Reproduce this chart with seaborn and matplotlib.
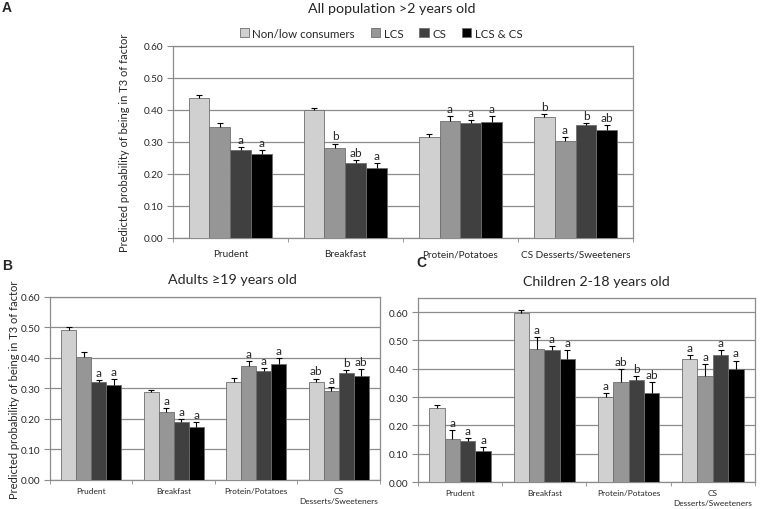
import numpy as np
import pandas as pd
import matplotlib
matplotlib.use('Agg')
import matplotlib.pyplot as plt
import seaborn as sns

sns.set_style('white')
plt.rcParams['font.family'] = ['Lato', 'DejaVu Sans']

groups = ['Non/low consumers', 'LCS', 'CS', 'LCS & CS']
colors = ['#d0d0d0', '#969696', '#404040', '#000000']
factors = ['Prudent', 'Breakfast', 'Protein/Potatoes', 'CS Desserts/Sweeteners']

# panel A: all population >2 years old (rows = factor, cols = group)
all_mean = [[0.437, 0.348, 0.275, 0.261],
            [0.400, 0.281, 0.234, 0.220],
            [0.315, 0.367, 0.360, 0.363],
            [0.379, 0.304, 0.352, 0.337]]
all_top = [[0.448, 0.360, 0.283, 0.275],
           [0.407, 0.295, 0.243, 0.235],
           [0.326, 0.381, 0.369, 0.381],
           [0.387, 0.314, 0.360, 0.354]]
all_sig = [['', '', 'a', 'a'],
           ['', 'b', 'ab', 'a'],
           ['', 'a', 'a', 'a'],
           ['b', 'a', 'b', 'ab']]

# panel B: adults >=19 years old
adult_mean = [[0.490, 0.404, 0.320, 0.312],
              [0.287, 0.221, 0.191, 0.173],
              [0.320, 0.373, 0.356, 0.379],
              [0.321, 0.291, 0.349, 0.339]]
adult_top = [[0.502, 0.418, 0.328, 0.331],
             [0.296, 0.235, 0.200, 0.189],
             [0.333, 0.388, 0.367, 0.398],
             [0.332, 0.303, 0.359, 0.362]]
adult_sig = [['', '', 'a', 'a'],
             ['', 'a', 'a', 'a'],
             ['', 'a', 'a', 'a'],
             ['ab', 'a', 'b', 'ab']]

# panel C: children 2-18 years old
child_mean = [[0.262, 0.153, 0.144, 0.108],
              [0.596, 0.471, 0.465, 0.434],
              [0.301, 0.353, 0.360, 0.315],
              [0.434, 0.373, 0.449, 0.399]]
child_top = [[0.273, 0.182, 0.155, 0.125],
             [0.607, 0.513, 0.479, 0.467],
             [0.315, 0.399, 0.375, 0.352],
             [0.449, 0.418, 0.467, 0.429]]
child_sig = [['', 'a', 'a', 'a'],
             ['', 'a', 'a', 'a'],
             ['a', 'ab', 'b', 'ab'],
             ['a', 'a', 'a', 'a']]

GRID = '#8c8c8c'


def panel(ax, mean, top, sig, labels, ymax, tick_fs, sig_fs):
    df = pd.DataFrame([(f, g, mean[i][j]) for i, f in enumerate(factors)
                       for j, g in enumerate(groups)],
                      columns=['factor', 'group', 'value'])
    sns.barplot(data=df, x='factor', y='value', hue='group', order=factors,
                hue_order=groups, palette=colors, width=0.73, gap=0,
                edgecolor='#6e6e6e', linewidth=0.6, legend=False, ax=ax,
                zorder=3)
    bar_conts = list(ax.containers)
    for j, cont in enumerate(bar_conts):
        for i, bar in enumerate(cont.patches):
            x = bar.get_x() + bar.get_width() / 2
            h = bar.get_height()
            eb = ax.errorbar(x, h, yerr=[[0], [top[i][j] - h]], fmt='none',
                             ecolor='black', elinewidth=0.8, capsize=2.5,
                             capthick=0.8, zorder=4)
            # only the upper cap, like the original
            eb[1][0].set_visible(False)
            if sig[i][j]:
                ax.annotate(sig[i][j], (x, top[i][j]), xytext=(0, 1.5),
                            textcoords='offset points', ha='center',
                            va='bottom', fontsize=sig_fs)
    ax.set_ylim(0, ymax)
    ax.set_xlim(-0.5, 3.5)
    ax.set_yticks(np.arange(0, 0.61, 0.1))
    ax.set_yticklabels(['%.2f' % v for v in np.arange(0, 0.61, 0.1)])
    ax.yaxis.grid(True, color=GRID, linewidth=0.9, zorder=0)
    ax.set_axisbelow(True)
    for s in ax.spines.values():
        s.set_color(GRID)
        s.set_linewidth(0.9)
    ax.set_xlabel('')
    ax.set_ylabel('')
    ax.set_xticks(range(4))
    ax.set_xticklabels(labels, fontsize=tick_fs, linespacing=1.5)
    ax.set_xticks([-0.5, 0.5, 1.5, 2.5, 3.5], minor=True)
    ax.tick_params(axis='x', which='major', length=0, pad=8)
    ax.tick_params(axis='x', which='minor', length=3, color=GRID,
                   direction='out', bottom=True)
    ax.tick_params(axis='y', length=4, color=GRID, direction='out',
                   left=True, labelsize=7.2, pad=3)


fig = plt.figure(figsize=(7.6, 5.1), dpi=100)
axA = fig.add_axes([0.2276, 0.5314, 0.6053, 0.3765])
axB = fig.add_axes([0.0658, 0.0569, 0.434, 0.3594])
axC = fig.add_axes([0.55, 0.0529, 0.4434, 0.3608])

panel(axA, all_mean, all_top, all_sig, factors, 0.6, 7.2, 8.5)
panel(axB, adult_mean, adult_top, adult_sig,
      ['Prudent', 'Breakfast', 'Protein/Potatoes', 'CS\nDesserts/Sweeteners'],
      0.6, 6, 8.5)
panel(axC, child_mean, child_top, child_sig,
      ['Prudent', 'Breakfast', 'Protein/Potatoes', 'CS\nDesserts/Sweeteners'],
      0.65, 6, 8.5)
for ax in (axB, axC):
    ax.tick_params(axis='x', which='major', pad=5)

ylab = 'Predicted probability of being in T3 of factor'
fig.text(125 / 760, 1 - 143 / 510, ylab, rotation=90, ha='center',
         va='center', fontsize=8)
fig.text(15 / 760, 1 - 390 / 510, ylab, rotation=90, ha='center',
         va='center', fontsize=8)

fig.text(392 / 760, 1 - 9 / 510, 'All population >2 years old',
         ha='center', va='center', fontsize=10.3)
fig.text(232 / 760, 1 - 280 / 510, 'Adults \u226519 years old',
         ha='center', va='center', fontsize=10.3)
fig.text(596 / 760, 1 - 282 / 510, 'Children 2-18 years old',
         ha='center', va='center', fontsize=10.3)

for letter, x, y in [('A', 7, 8), ('B', 7, 266), ('C', 421, 263)]:
    fig.text(x / 760, 1 - y / 510, letter, ha='center', va='center',
             fontsize=10, fontweight='bold', family='Liberation Sans')

handles = [plt.Rectangle((0, 0), 1, 1, facecolor=c, edgecolor='#6e6e6e',
                         linewidth=0.6) for c in colors]
fig.legend(handles, groups, loc='center', bbox_to_anchor=(381 / 760, 1 - 34 / 510),
           ncol=4, frameon=False, fontsize=8.3, handlelength=0.8,
           handleheight=0.8, handletextpad=0.3, columnspacing=1.4)

fig.savefig('out.png', dpi=100)
